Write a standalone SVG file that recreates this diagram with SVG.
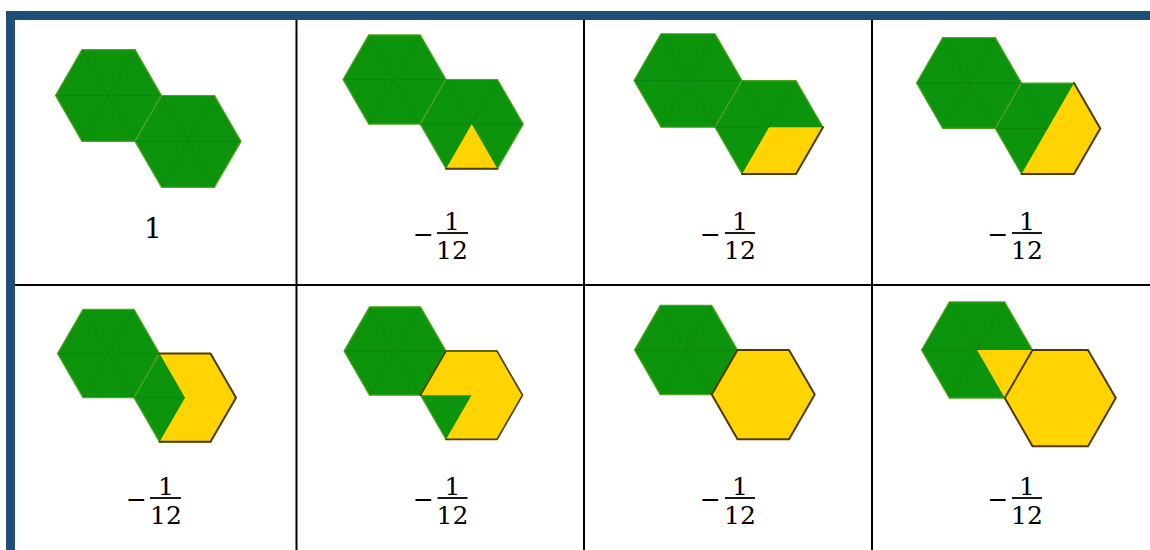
<svg xmlns="http://www.w3.org/2000/svg" xmlns:xlink="http://www.w3.org/1999/xlink" width="1150" height="550" viewBox="0 0 1150 550">
<style>
.s{vector-effect:non-scaling-stroke}
.g{fill:#0C950C;stroke:#4FA51C;stroke-width:1.2;stroke-linejoin:round}
.gl{stroke:#097A09;stroke-width:1;stroke-opacity:0.5;fill:none}
.y{fill:#FFD400;stroke:none}
.o{fill:none;stroke:#4F3A00;stroke-width:2;stroke-linejoin:round;stroke-linecap:round}
.grid{stroke:#000;stroke-width:2}
.t{font-family:"DejaVu Serif","Liberation Serif",serif;font-size:25px;fill:#000;text-anchor:middle}
.bar{stroke:#000;stroke-width:1.8}
</style>
<defs>
<g id="hexG">
<polygon class="g s" points="1,0 0.5,0.866 -0.5,0.866 -1,0 -0.5,-0.866 0.5,-0.866"/>
<path class="gl s" d="M1,0L-1,0M0.5,0.866L-0.5,-0.866M-0.5,0.866L0.5,-0.866"/>
</g>
</defs>
<rect width="1150" height="550" fill="#fff"/>
<g id="grid">
<line class="grid" x1="296.5" y1="20" x2="296.5" y2="550"/>
<line class="grid" x1="584" y1="20" x2="584" y2="550"/>
<line class="grid" x1="872" y1="20" x2="872" y2="550"/>
<line class="grid" x1="15" y1="285" x2="1150" y2="285"/>
<rect x="6" y="11" width="1144" height="9" fill="#1F4E79"/>
<rect x="6" y="11" width="9" height="539" fill="#1F4E79"/>
</g>
<g id="connectors"></g>

<g id="cell-1">
<use xlink:href="#hexG" href="#hexG" transform="translate(108.5,95.5) scale(53)"/>
<use xlink:href="#hexG" href="#hexG" transform="translate(188,141.4) scale(53)"/>
<text class="t" x="153" y="238" style="font-size:28px">1</text>
</g>

<g id="cell-2">
<use href="#hexG" transform="translate(394.5,79.5) scale(51.5)"/>
<g transform="translate(471.75,124.1) scale(51.5)">
<use href="#hexG"/>
<polygon class="y" points="0,0 0.5,0.866 -0.5,0.866"/>
<polyline class="o s" points="0.5,0.866 -0.5,0.866"/>
</g>
<text class="t" x="423.5" y="243">−</text>
<text class="t" x="452" y="230">1</text>
<line class="bar" x1="437" y1="233" x2="468" y2="233"/>
<text class="t" x="452" y="259">12</text>
</g>

<g id="cell-3">
<use href="#hexG" transform="translate(688,80.5) scale(54)"/>
<g transform="translate(769,127.3) scale(54)">
<use href="#hexG"/>
<polygon class="y" points="0,0 1,0 0.5,0.866 -0.5,0.866"/>
<polyline class="o s" points="1,0 0.5,0.866 -0.5,0.866"/>
</g>
<text class="t" x="710.5" y="243">−</text>
<text class="t" x="740" y="230">1</text>
<line class="bar" x1="725" y1="233" x2="755" y2="233"/>
<text class="t" x="740" y="259">12</text>
</g>

<g id="cell-4">
<use href="#hexG" transform="translate(969,83) scale(52.5)"/>
<g transform="translate(1047.75,128.5) scale(52.5)">
<use href="#hexG"/>
<polygon class="y" points="0.5,-0.866 1,0 0.5,0.866 -0.5,0.866"/>
<polyline class="o s" points="0.5,-0.866 1,0 0.5,0.866 -0.5,0.866"/>
</g>
<text class="t" x="998" y="243">−</text>
<text class="t" x="1027" y="230">1</text>
<line class="bar" x1="1012" y1="233" x2="1042" y2="233"/>
<text class="t" x="1027" y="259">12</text>
</g>

<g id="cell-5">
<use href="#hexG" transform="translate(108.5,353.5) scale(51)"/>
<g transform="translate(185,397.7) scale(51)">
<use href="#hexG"/>
<polygon class="y" points="0,0 -0.5,-0.866 0.5,-0.866 1,0 0.5,0.866 -0.5,0.866"/>
<polyline class="o s" points="-0.5,-0.866 0.5,-0.866 1,0 0.5,0.866 -0.5,0.866"/>
</g>
<text class="t" x="136.5" y="508">−</text>
<text class="t" x="166" y="495">1</text>
<line class="bar" x1="150" y1="498" x2="181" y2="498"/>
<text class="t" x="166" y="524">12</text>
</g>

<g id="cell-6">
<use href="#hexG" transform="translate(395,351) scale(51)"/>
<g transform="translate(471.5,395.2) scale(51)">
<use href="#hexG"/>
<polygon class="y" points="0,0 -1,0 -0.5,-0.866 0.5,-0.866 1,0 0.5,0.866 -0.5,0.866"/>
<polyline class="o s" points="-1,0 -0.5,-0.866 0.5,-0.866 1,0 0.5,0.866 -0.5,0.866" style="stroke-width:1.6"/>
</g>
<text class="t" x="423.5" y="508">−</text>
<text class="t" x="452.5" y="495">1</text>
<line class="bar" x1="437.5" y1="498" x2="467.5" y2="498"/>
<text class="t" x="452.5" y="524">12</text>
</g>

<g id="cell-7">
<use href="#hexG" transform="translate(686,350) scale(51.5)"/>
<g transform="translate(763.25,394.6) scale(51.5)">
<polygon class="y" points="1,0 0.5,0.866 -0.5,0.866 -1,0 -0.5,-0.866 0.5,-0.866"/>
<polygon class="o s" points="1,0 0.5,0.866 -0.5,0.866 -1,0 -0.5,-0.866 0.5,-0.866"/>
</g>
<text class="t" x="710.5" y="508">−</text>
<text class="t" x="740" y="495">1</text>
<line class="bar" x1="725" y1="498" x2="755" y2="498"/>
<text class="t" x="740" y="524">12</text>
</g>

<g id="cell-8">
<g transform="translate(977,350) scale(55.5)">
<use href="#hexG"/>
<polygon class="y" points="0,0 1,0 0.5,0.866"/>
</g>
<g transform="translate(1060.25,398.1) scale(55.5)">
<polygon class="y" points="1,0 0.5,0.866 -0.5,0.866 -1,0 -0.5,-0.866 0.5,-0.866"/>
<polygon class="o s" points="1,0 0.5,0.866 -0.5,0.866 -1,0 -0.5,-0.866 0.5,-0.866"/>
</g>
<text class="t" x="998" y="508">−</text>
<text class="t" x="1027" y="495">1</text>
<line class="bar" x1="1012" y1="498" x2="1042" y2="498"/>
<text class="t" x="1027" y="524">12</text>
</g>
</svg>
